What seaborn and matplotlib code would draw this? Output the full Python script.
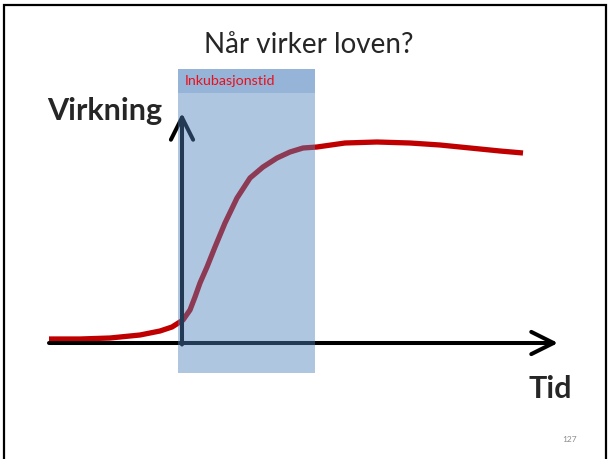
import matplotlib
matplotlib.use("Agg")
import matplotlib.pyplot as plt
import matplotlib.patches as mpatches
import seaborn as sns
import pandas as pd

# ── Data (time / effect, origin at the arrow corner) ────────────────────────
time = [-133, -102, -72, -42, -22, -10, 1, 8, 13, 18, 25, 33, 43, 55, 68, 81,
        95, 108, 121, 135, 163, 195, 228, 258, 288, 318, 341]
effect = [4, 4, 5, 8, 12, 16, 23, 33, 46, 60, 76, 96, 120, 145, 165, 176,
          185, 191, 195, 196, 200, 201, 200, 198, 195, 192, 190]
window_start, window_end = -4, 133
window_low, window_high, band_low = -30, 274, 250
x_axis_start, x_axis_end = -133, 376
y_axis_end = 230

title = "Når virker loven?"
y_label = "Virkning"
x_label = "Tid"
window_label = "Inkubasjonstid"
page_no = "127"

W, H = 609, 459
sns.set_style("white")
plt.rcParams["font.family"] = ["Lato", "DejaVu Sans"]

fig = plt.figure(figsize=(W / 100, H / 100), dpi=100)
ax = fig.add_axes([0, 0, 1, 1])
ax.set_xlim(-182, W - 182)
ax.set_ylim(343 - H, 343)
ax.axis("off")

df = pd.DataFrame({"time": time, "effect": effect})
sns.lineplot(data=df, x="time", y="effect", color="#c00000", lw=3.8,
             solid_joinstyle="round", solid_capstyle="butt", ax=ax, zorder=2)

arrow_kw = dict(arrowstyle="->,head_length=1.6,head_width=0.8",
                lw=2.9, color="black", mutation_scale=10,
                shrinkA=0, shrinkB=0, capstyle="round", joinstyle="round")
ax.annotate("", xy=(x_axis_end, 0), xytext=(x_axis_start, 0),
            arrowprops=arrow_kw, zorder=3)
ax.annotate("", xy=(0, y_axis_end), xytext=(0, -1.5),
            arrowprops=arrow_kw, zorder=3)

# incubation window (semi-transparent overlay)
ax.add_patch(mpatches.Rectangle((window_start, window_low),
                                window_end - window_start,
                                window_high - window_low,
                                color="#4f81bd", alpha=0.45, lw=0, zorder=4))
ax.add_patch(mpatches.Rectangle((window_start, band_low),
                                window_end - window_start,
                                window_high - band_low,
                                color="#4f81bd", alpha=0.25, lw=0, zorder=4))
ax.text(window_start + 7, (band_low + window_high) / 2, window_label,
        color="#e8101c", fontsize=10.3, va="center", ha="left", zorder=5)

fig.text(309 / W, 1 - 45 / H, title, fontsize=20, ha="center", va="center")
fig.text(47 / W, 1 - 111 / H, y_label, fontsize=22, fontweight="bold",
         ha="left", va="center")
fig.text(550 / W, 1 - 389 / H, x_label, fontsize=22, fontweight="bold",
         ha="center", va="center")
fig.text(570 / W, 1 - 440 / H, page_no, fontsize=6, color="#8c8c8c",
         ha="center", va="center")

# slide frame
fig.add_artist(mpatches.Rectangle((4 / W, -0.1), (606 - 4) / W,
                                  1.1 - 5 / H, transform=fig.transFigure,
                                  fill=False, lw=1.6, ec="black"))

fig.savefig("out.png", dpi=100)
